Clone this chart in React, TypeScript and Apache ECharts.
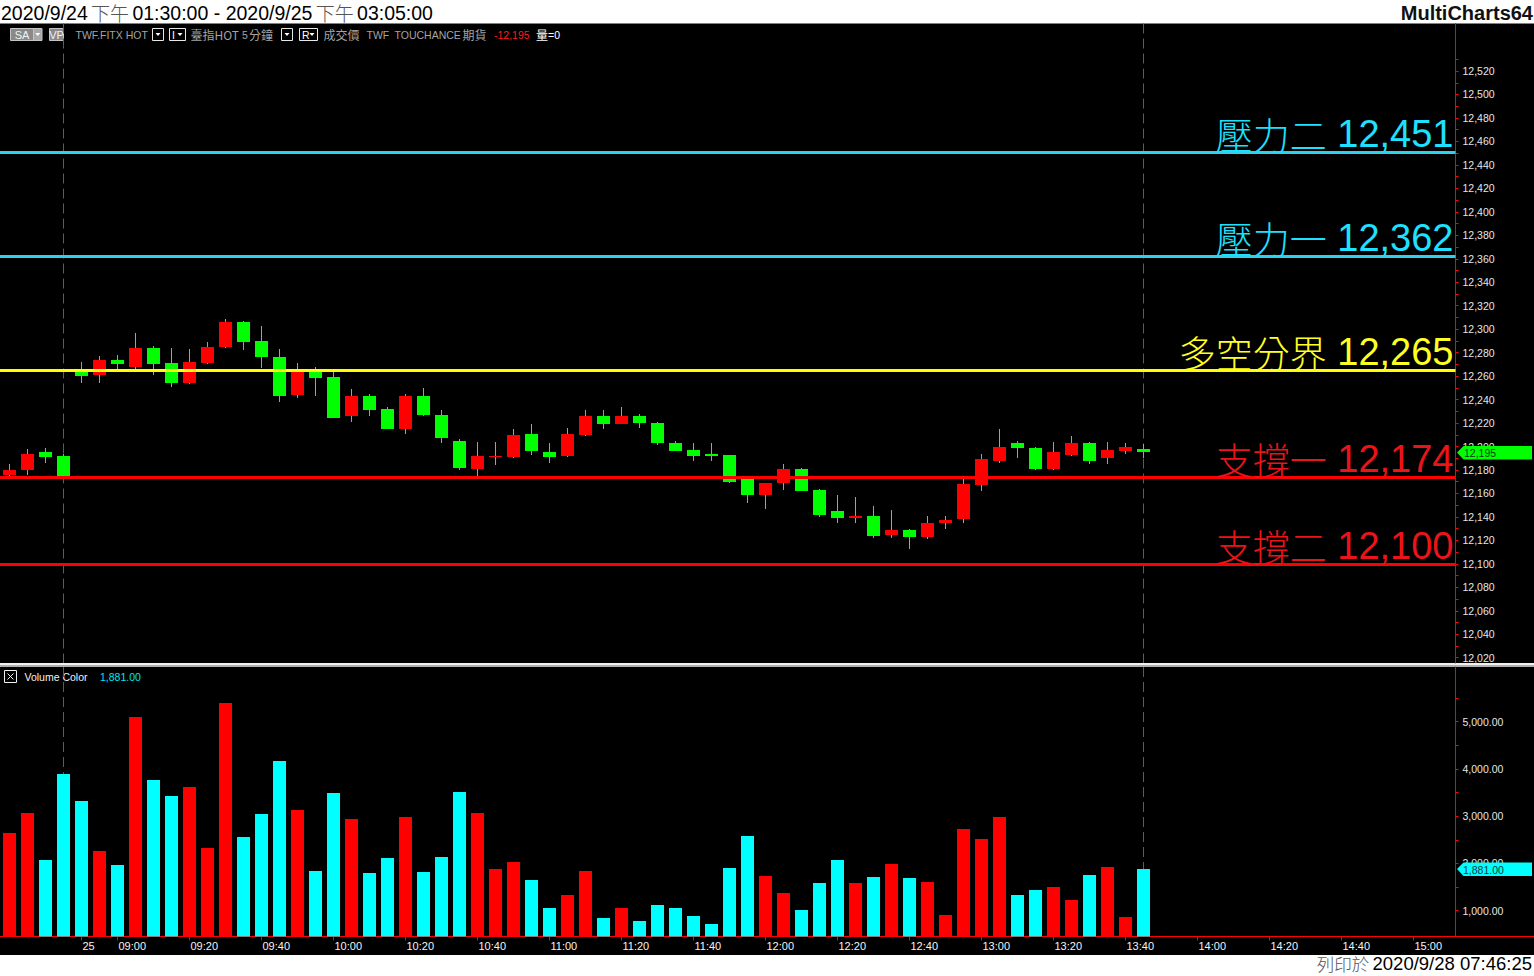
import React, { useEffect, useRef } from "react";
import * as echarts from "echarts";

// ---------------- data ----------------
const day1Times: string[] = ["13:30", "13:35", "13:40", "13:45"];
function fiveMinSlots(h: number, m: number, count: number): string[] {
  const out: string[] = [];
  let t = h * 60 + m;
  for (let k = 0; k < count; k++) {
    const hh = Math.floor(t / 60);
    const mm = t % 60;
    out.push(String(hh).padStart(2, "0") + ":" + String(mm).padStart(2, "0"));
    t += 5;
  }
  return out;
}
const day2Times: string[] = fiveMinSlots(8, 50, 60); // 08:50 … 13:45
const futureTimes: string[] = fiveMinSlots(13, 50, 17); // 13:50 … 15:10
const barTimes: string[] = [...day1Times, ...day2Times];
const axisTimes: string[] = [...barTimes, ...futureTimes];

const tickTimes: string[] = ["08:50", "09:00", "09:20", "09:40", "10:00", "10:20", "10:40", "11:00", "11:20", "11:40", "12:00", "12:20", "12:40", "13:00", "13:20", "13:40", "14:00", "14:20", "14:40", "15:00"];
const tickLabels: string[] = ["25", "09:00", "09:20", "09:40", "10:00", "10:20", "10:40", "11:00", "11:20", "11:40", "12:00", "12:20", "12:40", "13:00", "13:20", "13:40", "14:00", "14:20", "14:40", "15:00"];

const priceTickLabels: number[] = [12020, 12040, 12060, 12080, 12100, 12120, 12140, 12160, 12180, 12200, 12220, 12240, 12260, 12280, 12300, 12320, 12340, 12360, 12380, 12400, 12420, 12440, 12460, 12480, 12500, 12520];
const volumeTickLabels: number[] = [1000, 2000, 3000, 4000, 5000];

const levelNames: string[] = ["壓力二", "壓力一", "多空分界", "支撐一", "支撐二"];
const levelValues: number[] = [12451, 12362, 12265, 12174, 12100];

const opens: number[] = [12176, 12180, 12195, 12192, 12264, 12261, 12274, 12268, 12284, 12271, 12254, 12271, 12285, 12306, 12290, 12276, 12244, 12265, 12259, 12226, 12243, 12232, 12215, 12243, 12227, 12205, 12181, 12191, 12191, 12211, 12195, 12192, 12210, 12226, 12219, 12226, 12220, 12203, 12197, 12194, 12193, 12172, 12159, 12169, 12181, 12163, 12145, 12139, 12141, 12125, 12129, 12123, 12135, 12138, 12167, 12188, 12203, 12199, 12181, 12193, 12203, 12190, 12196, 12198];
const closes: number[] = [12180, 12194, 12191, 12175, 12260, 12274, 12270, 12284, 12270, 12254, 12272, 12285, 12306, 12289, 12276, 12243, 12265, 12258, 12224, 12243, 12231, 12215, 12243, 12227, 12207, 12182, 12192, 12192, 12210, 12196, 12191, 12211, 12226, 12219, 12226, 12220, 12203, 12196, 12192, 12192, 12170, 12159, 12169, 12181, 12162, 12142, 12139, 12141, 12124, 12129, 12123, 12135, 12137, 12168, 12189, 12200, 12199, 12181, 12195, 12203, 12188, 12197, 12200, 12195];
const lows: number[] = [12175, 12176, 12186, 12175, 12254, 12254, 12266, 12266, 12261, 12251, 12253, 12270, 12284, 12282, 12267, 12238, 12241, 12243, 12224, 12221, 12226, 12215, 12211, 12226, 12203, 12180, 12175, 12184, 12190, 12193, 12186, 12191, 12209, 12215, 12219, 12216, 12201, 12196, 12188, 12188, 12169, 12152, 12147, 12163, 12162, 12140, 12135, 12135, 12122, 12122, 12113, 12121, 12130, 12135, 12162, 12186, 12190, 12180, 12180, 12192, 12185, 12185, 12194, 12190];
const highs: number[] = [12185, 12198, 12199, 12194, 12272, 12277, 12278, 12297, 12286, 12284, 12283, 12289, 12309, 12307, 12303, 12283, 12271, 12268, 12264, 12249, 12245, 12234, 12245, 12250, 12231, 12206, 12204, 12204, 12215, 12219, 12203, 12216, 12231, 12231, 12234, 12228, 12221, 12205, 12203, 12203, 12193, 12173, 12169, 12185, 12182, 12164, 12159, 12157, 12149, 12146, 12130, 12141, 12141, 12172, 12194, 12215, 12205, 12200, 12204, 12209, 12204, 12204, 12203, 12202];
const volumes: number[] = [2644, 3068, 2073, 3893, 3322, 2263, 1967, 5099, 3766, 3427, 3618, 2327, 5396, 2560, 3047, 4168, 3131, 1840, 3491, 2941, 1798, 2115, 2983, 1819, 2136, 3512, 3068, 1883, 2031, 1650, 1057, 1332, 1840, 845, 1057, 782, 1121, 1057, 888, 718, 1904, 2581, 1734, 1375, 1015, 1586, 2073, 1586, 1713, 1988, 1692, 1607, 909, 2729, 2517, 2983, 1332, 1438, 1502, 1226, 1755, 1925, 867, 1881];

// ---------------- layout / style ----------------
const W = 1534;
const H = 976;
const PLOT_W = 1455.5;
const PRICE_TOP = 23.5;
const PRICE_H = 639.5;
const VOL_TOP = 667;
const VOL_H = 269.5;
const BAR_STEP = 18;
const FIRST_X = 9.5;
const X_MIN = -FIRST_X / BAR_STEP;
const X_MAX = X_MIN + PLOT_W / BAR_STEP;
const PRICE_MIN = 12015.5;
const PRICE_MAX = 12560.5;
const VOL_MIN = 454;
const VOL_MAX = 6157.6;

const UP = "#ff0000";
const DOWN = "#00ff00";
const VOL_UP = "#ff0000";
const VOL_DOWN = "#00ffff";
const WICK = "#a0a0a0";
const AXIS_RED = "#ff0000";
const LABEL_GREY = "#e6e6e6";
const LEVEL_LINE_COLORS = ["#2ed0ee", "#2ed0ee", "#ffff00", "#ff0000", "#ff0000"];
const LEVEL_TEXT_COLORS = ["#1ee0ff", "#1ee0ff", "#ffff24", "#ec1418", "#ec1418"];

const FONT_LATIN = "'Liberation Sans', Arial, sans-serif";
const FONT_CJK = "'Noto Sans CJK TC', 'Noto Sans CJK SC', sans-serif";

function fmtInt(v: number): string {
  return String(Math.round(v)).replace(/\B(?=(\d{3})+(?!\d))/g, ",");
}
function fmt2(v: number): string {
  const [a, b] = v.toFixed(2).split(".");
  return a.replace(/\B(?=(\d{3})+(?!\d))/g, ",") + "." + b;
}

const lastIndex = barTimes.length - 1;
const lastClose = closes[lastIndex];
const lastVolume = volumes[lastIndex];
const sessionEnds: number[] = barTimes.map((t, i) => (t === "13:45" ? i : -1)).filter((i) => i >= 0);
const tickIndex: number[] = tickTimes.map((t) => axisTimes.lastIndexOf(t));
const tickLabelByIndex: Record<number, string> = {};
tickIndex.forEach((idx, k) => (tickLabelByIndex[idx] = tickLabels[k]));
const priceMinorTicks: number[] = [];
priceTickLabels.forEach((v) => {
  priceMinorTicks.push(v);
  priceMinorTicks.push(v + 10);
});
const volumeMinorTicks: number[] = [];
volumeTickLabels.forEach((v) => {
  volumeMinorTicks.push(v);
  volumeMinorTicks.push(v + 500);
});

function buildOption(): any {
  const candleData = opens.map((o, i) => [i, o, closes[i], lows[i], highs[i]]);
  const volData = volumes.map((v, i) => [i, v, closes[i] > opens[i] ? 1 : 0]);
  const levelData = levelValues.map((v, k) => [k, v]);

  const renderCandle = (params: any, api: any) => {
    const i = api.value(0);
    const o = api.value(1);
    const c = api.value(2);
    const l = api.value(3);
    const h = api.value(4);
    const pO = api.coord([i, o]);
    const yC = api.coord([i, c])[1];
    const yL = api.coord([i, l])[1];
    const yH = api.coord([i, h])[1];
    const xw = Math.floor(pO[0]) + 0.5;
    const top = Math.round(Math.min(pO[1], yC));
    const bot = Math.max(Math.round(Math.max(pO[1], yC)), top + 1);
    return {
      type: "group",
      children: [
        { type: "line", shape: { x1: xw, y1: Math.round(yH), x2: xw, y2: Math.round(yL) }, style: { stroke: WICK, lineWidth: 1 } },
        { type: "rect", shape: { x: xw - 6.5, y: top, width: 13, height: bot - top }, style: { fill: c > o ? UP : DOWN } },
      ],
    };
  };

  const renderVolume = (params: any, api: any) => {
    const i = api.value(0);
    const v = api.value(1);
    const up = api.value(2) === 1;
    const p = api.coord([i, v]);
    const cs = params.coordSys;
    const base = cs.y + cs.height;
    const top = Math.round(p[1]);
    return {
      type: "rect",
      shape: { x: Math.floor(p[0]) - 6, y: top, width: 13, height: base - top },
      style: { fill: up ? VOL_UP : VOL_DOWN },
    };
  };

  const renderLevel = (params: any, api: any) => {
    const k = params.dataIndex;
    const v = api.value(1);
    const y = Math.round(api.coord([0, v])[1]) + 0.5;
    const cs = params.coordSys;
    const tc = LEVEL_TEXT_COLORS[k];
    return {
      type: "group",
      children: [
        { type: "line", shape: { x1: cs.x, y1: y, x2: cs.x + cs.width, y2: y }, style: { stroke: LEVEL_LINE_COLORS[k], lineWidth: 3 } },
        {
          type: "text",
          x: cs.x + cs.width - 2,
          y: y + 0.5,
          style: {
            text: `{n|${levelNames[k]}}{v| ${fmtInt(v)}}`,
            align: "right",
            verticalAlign: "bottom",
            rich: {
              n: { fontFamily: FONT_CJK, fontSize: 37, fontWeight: 300, fill: tc },
              v: { fontFamily: FONT_LATIN, fontSize: 38, fill: tc },
            },
          },
        },
      ],
    };
  };

  const renderSession = (params: any, api: any) => {
    const i = api.value(0);
    const x = Math.floor(api.coord([i, api.value(1)])[0]) + 0.5;
    const cs = params.coordSys;
    return {
      type: "line",
      shape: { x1: x, y1: cs.y, x2: x, y2: cs.y + cs.height },
      style: { stroke: "#5c5c5c", lineWidth: 1, lineDash: [10, 5] },
    };
  };

  const renderPriceTag = (params: any, api: any) => {
    const y = api.coord([api.value(0), api.value(1)])[1];
    const cs = params.coordSys;
    const x0 = cs.x + cs.width + 1.5;
    return {
      type: "group",
      children: [
        { type: "polygon", shape: { points: [[x0, y], [x0 + 6.5, y - 6.5], [W - 2, y - 6.5], [W - 2, y + 7], [x0 + 6.5, y + 7]] }, style: { fill: DOWN } },
        { type: "text", x: x0 + 7, y: y + 0.5, style: { text: fmtInt(api.value(1)), fill: "#0d3a0d", font: `10.5px ${FONT_LATIN}`, verticalAlign: "middle", align: "left" } },
      ],
    };
  };

  const renderVolTag = (params: any, api: any) => {
    const y = api.coord([api.value(0), api.value(1)])[1];
    const cs = params.coordSys;
    const x0 = cs.x + cs.width + 1.5;
    return {
      type: "group",
      children: [
        { type: "polygon", shape: { points: [[x0, y], [x0 + 6.5, y - 6.5], [W - 2, y - 6.5], [W - 2, y + 7], [x0 + 6.5, y + 7]] }, style: { fill: VOL_DOWN } },
        { type: "text", x: x0 + 6, y: y + 0.5, style: { text: fmt2(api.value(1)), fill: "#0b3a3a", font: `10.5px ${FONT_LATIN}`, verticalAlign: "middle", align: "left" } },
      ],
    };
  };

  const yAxisCommon = (min: number, max: number, labels: number[], ticks: number[], fmt: (v: number) => string) => ({
    type: "value",
    position: "right",
    min,
    max,
    axisLine: { show: true, onZero: false, lineStyle: { color: AXIS_RED, width: 1 } },
    axisTick: { show: true, length: 3, customValues: ticks, lineStyle: { color: AXIS_RED, width: 1 } },
    axisLabel: { show: true, customValues: labels, color: LABEL_GREY, fontSize: 10.5, fontFamily: FONT_LATIN, margin: 7, formatter: (v: number) => fmt(v) },
    splitLine: { show: false },
  });

  // ---------- static graphics (header, toolbar, footer) ----------
  const tbText = (x: number, text: string, fill: string, cjk = false) => ({
    type: "text",
    x,
    y: 34.5,
    style: { text, fill, font: cjk ? `12px ${FONT_CJK}` : `10.5px ${FONT_LATIN}`, verticalAlign: "middle", align: "left" },
  });
  const tri = (cx: number, fill: string) => ({ type: "polygon", shape: { points: [[cx - 2.5, 33], [cx + 2.5, 33], [cx, 36]] }, style: { fill } });
  const boxDark = (x: number, w: number) => ({ type: "rect", shape: { x, y: 28.5, width: w, height: 12 }, style: { fill: "#000", stroke: "#e8e8e8", lineWidth: 1 } });

  const graphic: any[] = [
    { type: "rect", shape: { x: 0, y: 0, width: W, height: PRICE_TOP }, style: { fill: "#ffffff" } },
    { type: "rect", shape: { x: 0, y: 955, width: W, height: H - 955 }, style: { fill: "#ffffff" } },
    {
      type: "text",
      x: 1,
      y: 12.5,
      style: {
        text: "{d|2020/9/24} {g|下午} {d|01:30:00 - 2020/9/25} {g|下午} {d|03:05:00}",
        verticalAlign: "middle",
        align: "left",
        rich: {
          d: { fontFamily: FONT_LATIN, fontSize: 19.5, fill: "#000000", lineHeight: 20 },
          g: { fontFamily: FONT_CJK, fontSize: 19, fontWeight: 300, fill: "#555555", lineHeight: 20 },
        },
      },
    },
    { type: "text", x: 1533, y: 12.5, style: { text: "MultiCharts64", fill: "#111111", font: `bold 20px ${FONT_LATIN}`, align: "right", verticalAlign: "middle" } },
    {
      type: "text",
      x: 1532,
      y: 963.5,
      style: {
        text: "{g|列印於} {d|2020/9/28 07:46:25}",
        align: "right",
        verticalAlign: "middle",
        rich: {
          d: { fontFamily: FONT_LATIN, fontSize: 18.5, fill: "#000000", lineHeight: 17 },
          g: { fontFamily: FONT_CJK, fontSize: 17.5, fontWeight: 300, fill: "#555555", lineHeight: 17 },
        },
      },
    },
    // toolbar
    { type: "rect", shape: { x: 10.5, y: 28.5, width: 23, height: 12 }, style: { fill: "#8a8a8a", stroke: "#c4c4c4", lineWidth: 1 } },
    { type: "text", x: 22, y: 34.5, style: { text: "SA", fill: "#f2f2f2", font: `11px ${FONT_LATIN}`, align: "center", verticalAlign: "middle" } },
    { type: "rect", shape: { x: 33.5, y: 28.5, width: 8.5, height: 12 }, style: { fill: "#a8a8a8", stroke: "#c4c4c4", lineWidth: 1 } },
    tri(37.75, "#ffffff"),
    { type: "rect", shape: { x: 49.5, y: 28.5, width: 14, height: 12 }, style: { fill: "#8a8a8a", stroke: "#c4c4c4", lineWidth: 1 } },
    { type: "text", x: 56.5, y: 34.5, style: { text: "VP", fill: "#f2f2f2", font: `11px ${FONT_LATIN}`, align: "center", verticalAlign: "middle" } },
    tbText(75.5, "TWF.FITX HOT", "#a4a4a4"),
    boxDark(152.5, 11),
    tri(158, "#ffffff"),
    boxDark(169.5, 16),
    tbText(172, "I", "#ffffff"),
    tri(180, "#ffffff"),
    tbText(190.5, "臺指HOT", "#a4a4a4", true),
    tbText(242, "5", "#a4a4a4"),
    tbText(249, "分鐘", "#a4a4a4", true),
    boxDark(281.5, 11),
    tri(287, "#ffffff"),
    boxDark(299.5, 18),
    tbText(302, "R", "#ffffff"),
    tri(312, "#ffffff"),
    tbText(323.5, "成交價", "#a4a4a4", true),
    tbText(366.5, "TWF", "#a4a4a4"),
    tbText(394.5, "TOUCHANCE", "#a4a4a4"),
    tbText(462.5, "期貨", "#a4a4a4", true),
    tbText(494, "-" + fmtInt(lastClose), "#ff1a1a"),
    tbText(536, "量", "#ffffff", true),
    tbText(548, "=0", "#ffffff"),
    // pane separator
    { type: "rect", shape: { x: 0, y: 663, width: W, height: 2 }, style: { fill: "#f0f0f0" } },
    { type: "rect", shape: { x: 0, y: 665, width: W, height: 2 }, style: { fill: "#b0b0b0" } },
    // x-axis line continuation under the scale
    { type: "line", shape: { x1: PLOT_W, y1: VOL_TOP + VOL_H, x2: W, y2: VOL_TOP + VOL_H }, style: { stroke: AXIS_RED, lineWidth: 1 } },
    // volume title
    { type: "rect", shape: { x: 4.5, y: 670.5, width: 12, height: 12 }, style: { fill: "#000", stroke: "#f0f0f0", lineWidth: 1 } },
    { type: "line", shape: { x1: 7.5, y1: 673.5, x2: 13.5, y2: 679.5 }, style: { stroke: "#f0f0f0", lineWidth: 1 } },
    { type: "line", shape: { x1: 13.5, y1: 673.5, x2: 7.5, y2: 679.5 }, style: { stroke: "#f0f0f0", lineWidth: 1 } },
    { type: "text", x: 24.5, y: 676.5, style: { text: "Volume Color", fill: "#f2f2f2", font: `10.5px ${FONT_LATIN}`, verticalAlign: "middle", align: "left" } },
    { type: "text", x: 100, y: 676.5, style: { text: fmt2(lastVolume), fill: "#00e5ee", font: `10.5px ${FONT_LATIN}`, verticalAlign: "middle", align: "left" } },
  ];

  return {
    animation: false,
    backgroundColor: "#000000",
    grid: [
      { left: 0, top: PRICE_TOP, width: PLOT_W, height: PRICE_H, containLabel: false, outerBoundsMode: "none" },
      { left: 0, top: VOL_TOP, width: PLOT_W, height: VOL_H, containLabel: false, outerBoundsMode: "none" },
    ],
    xAxis: [
      { gridIndex: 0, type: "value", min: X_MIN, max: X_MAX, show: false },
      {
        gridIndex: 1,
        type: "value",
        min: X_MIN,
        max: X_MAX,
        axisLine: { show: true, onZero: false, lineStyle: { color: AXIS_RED, width: 1 } },
        axisTick: { show: true, length: 4, customValues: tickIndex, lineStyle: { color: AXIS_RED } },
        axisLabel: {
          show: true,
          customValues: tickIndex,
          formatter: (v: number) => tickLabelByIndex[Math.round(v)] ?? "",
          color: "#f4f4f4",
          fontSize: 11,
          fontFamily: "'Liberation Sans Narrow', 'Liberation Sans', Arial, sans-serif",
          align: "left",
          margin: 4,
          padding: [0, 0, 0, 1],
        },
        splitLine: { show: false },
      },
    ],
    yAxis: [
      { gridIndex: 0, ...yAxisCommon(PRICE_MIN, PRICE_MAX, priceTickLabels, priceMinorTicks, fmtInt) },
      { gridIndex: 1, ...yAxisCommon(VOL_MIN, VOL_MAX, volumeTickLabels, volumeMinorTicks, fmt2) },
    ],
    series: [
      { type: "custom", name: "session-end", xAxisIndex: 0, yAxisIndex: 0, data: sessionEnds.map((i) => [i, PRICE_MIN]), encode: { x: 0, y: 1 }, renderItem: renderSession, silent: true },
      { type: "custom", name: "session-end-vol", xAxisIndex: 1, yAxisIndex: 1, data: sessionEnds.map((i) => [i, VOL_MIN]), encode: { x: 0, y: 1 }, renderItem: renderSession, silent: true },
      { type: "custom", name: "臺指HOT", xAxisIndex: 0, yAxisIndex: 0, data: candleData, encode: { x: 0, y: [1, 2, 3, 4] }, renderItem: renderCandle },
      { type: "custom", name: "Volume Color", xAxisIndex: 1, yAxisIndex: 1, data: volData, encode: { x: 0, y: 1 }, renderItem: renderVolume },
      { type: "custom", name: "levels", xAxisIndex: 0, yAxisIndex: 0, data: levelData, encode: { x: 0, y: 1 }, renderItem: renderLevel, silent: true },
      { type: "custom", name: "last-price", xAxisIndex: 0, yAxisIndex: 0, data: [[lastIndex, lastClose]], encode: { x: 0, y: 1 }, renderItem: renderPriceTag, silent: true },
      { type: "custom", name: "last-volume", xAxisIndex: 1, yAxisIndex: 1, data: [[lastIndex, lastVolume]], encode: { x: 0, y: 1 }, renderItem: renderVolTag, silent: true },
    ],
    graphic,
  };
}

export default function App() {
  const ref = useRef<HTMLDivElement>(null);
  useEffect(() => {
    if (!ref.current) return;
    const chart = echarts.init(ref.current, undefined, { renderer: "svg", width: W, height: H });
    chart.setOption(buildOption());
    return () => chart.dispose();
  }, []);
  return <div ref={ref} style={{ position: "fixed", left: 0, top: 0, width: W, height: H }} />;
}
